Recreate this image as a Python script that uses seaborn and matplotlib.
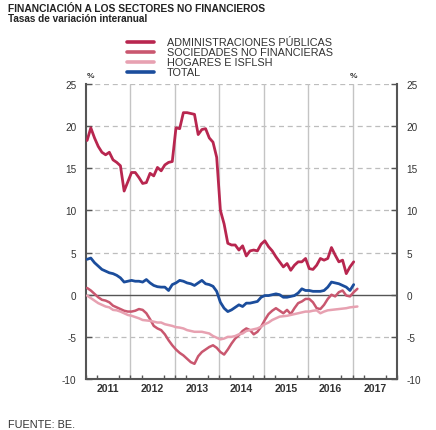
import numpy as np
import pandas as pd
import matplotlib
matplotlib.use("Agg")
import matplotlib.pyplot as plt
import seaborn as sns

# ---------------- data (monthly, from Jan 2011) ----------------
start_year = 2011
aapp = [18.3, 19.8, 18.6, 17.6, 16.9, 16.6, 16.9, 16.0, 15.7, 15.3,
        12.3, 13.4, 14.5, 14.5, 13.9, 13.2, 13.3, 14.4, 14.1, 15.1,
        14.7, 15.4, 15.7, 15.8, 19.8, 19.7, 21.6, 21.6, 21.5, 21.4,
        19.0, 19.6, 19.7, 18.6, 18.1, 16.3, 10.0, 8.4, 6.1, 5.9,
        5.9, 5.3, 5.8, 4.6, 5.2, 5.3, 5.2, 6.0, 6.4, 5.7,
        5.2, 4.5, 3.9, 3.3, 3.7, 2.9, 3.5, 3.9, 3.9, 4.3,
        3.1, 3.0, 3.5, 4.3, 4.1, 4.3, 5.6, 4.7, 3.9, 4.1,
        2.5, 3.3, 3.9]
snf = [0.8, 0.5, 0.1, -0.3, -0.6, -0.7, -0.9, -1.3, -1.5, -1.7,
       -1.9, -2.0, -2.0, -1.9, -1.7, -1.8, -2.2, -2.9, -3.7, -4.0,
       -4.2, -4.7, -5.4, -6.0, -6.5, -6.9, -7.2, -7.6, -8.0, -8.2,
       -7.3, -6.8, -6.5, -6.2, -6.0, -6.3, -6.8, -7.1, -6.5, -5.8,
       -5.2, -4.8, -4.3, -4.0, -4.2, -4.7, -4.4, -3.8, -3.0, -2.3,
       -1.9, -1.6, -1.9, -2.2, -1.8, -2.3, -1.6, -1.0, -0.8, -0.5,
       -0.5, -0.9, -1.6, -1.7, -1.2, -0.5, 0.0, -0.2, 0.3, 0.5,
       -0.1, -0.2, 0.3, 0.7]
hogares = [-0.1, -0.4, -0.7, -1.0, -1.2, -1.4, -1.5, -1.8, -1.85, -2.0,
           -2.2, -2.4, -2.5, -2.65, -2.8, -3.0, -3.05, -3.1, -3.2, -3.3,
           -3.3, -3.5, -3.6, -3.7, -3.85, -3.9, -4.0, -4.2, -4.3, -4.4,
           -4.4, -4.4, -4.5, -4.6, -4.9, -5.1, -5.3, -5.2, -5.0, -5.0,
           -4.9, -4.7, -4.6, -4.3, -4.2, -4.1, -4.0, -3.8, -3.5, -3.3,
           -3.0, -2.8, -2.6, -2.55, -2.5, -2.4, -2.3, -2.2, -2.1, -2.0,
           -2.0, -1.9, -1.85, -2.2, -2.0, -1.85, -1.8, -1.75, -1.7, -1.65,
           -1.6, -1.5, -1.45, -1.4]
total = [4.2, 4.35, 3.8, 3.4, 3.0, 2.8, 2.6, 2.5, 2.3, 2.0,
         1.5, 1.6, 1.7, 1.6, 1.6, 1.5, 1.8, 1.4, 1.1, 0.95,
         0.9, 0.9, 0.5, 1.2, 1.4, 1.7, 1.6, 1.4, 1.3, 1.1,
         1.4, 1.7, 1.3, 1.2, 1.0, 0.4, -0.9, -1.6, -2.0, -1.8,
         -1.5, -1.2, -1.4, -1.0, -1.0, -0.9, -0.8, -0.3, -0.1, -0.1,
         0.0, 0.1, 0.0, -0.3, -0.3, -0.2, -0.1, 0.2, 0.7, 0.5,
         0.5, 0.4, 0.4, 0.4, 0.5, 0.9, 1.5, 1.4, 1.3, 1.1,
         0.9, 0.5, 1.2]

series_names = ["ADMINISTRACIONES PÚBLICAS", "SOCIEDADES NO FINANCIERAS",
                "HOGARES E ISFLSH", "TOTAL"]
series_values = [aapp, snf, hogares, total]
series_colors = ["#B8264F", "#C9576F", "#E7A1B1", "#1B4D9C"]
series_widths = [2.0, 1.8, 1.8, 2.0]

year_labels = ["2011", "2012", "2013", "2014", "2015", "2016", "2017"]
y_ticks = [-10, -5, 0, 5, 10, 15, 20, 25]

title = "FINANCIACIÓN A LOS SECTORES NO FINANCIEROS"
subtitle = "Tasas de variación interanual"
source = "FUENTE: BE."

# ---------------- long-form table ----------------
rows = []
for name, vals in zip(series_names, series_values):
    for i, v in enumerate(vals):
        rows.append({"fecha": start_year + (i + 0.3) / 12.0, "valor": v, "serie": name})
df = pd.DataFrame(rows)

# ---------------- style ----------------
sns.set_theme(style="white")
plt.rcParams["font.family"] = ["Liberation Sans", "DejaVu Sans"]
plt.rcParams["axes.unicode_minus"] = False

fig = plt.figure(figsize=(4.36, 4.31), dpi=100)
ax = fig.add_axes([86 / 436, 1 - 380 / 431, (397 - 86) / 436, (380 - 85) / 431])

# grid
for yv in [-5, 5, 10, 15, 20, 25]:
    ax.axhline(yv, color="#BDBDBD", lw=0.9, ls=(0, (4, 3)), zorder=0)
for yr in range(2012, 2018):
    ax.axvline(yr, color="#C4C4C4", lw=1.0, zorder=0)
ax.axhline(0, color="#555555", lw=1.0, zorder=1)

for name, col, lw in zip(series_names, series_colors, series_widths):
    sub = df[df["serie"] == name]
    sns.lineplot(data=sub, x="fecha", y="valor", color=col, lw=lw, ax=ax,
                 label=name, sort=False, estimator=None, zorder=3)

ax.set_xlim(2011, 2018)
ax.set_ylim(-10, 25)
ax.set_xlabel("")
ax.set_ylabel("")

# ticks
ax.set_yticks(y_ticks)
ax.set_yticklabels([str(t) for t in y_ticks])
ax.tick_params(axis="y", which="both", direction="in", length=4, width=1,
               color="#555555", left=True, right=True, labelleft=True,
               labelright=True, labelsize=7.2, pad=7, labelcolor="#333333")
ax.set_xticks([y + 0.5 for y in range(2011, 2018)])
ax.set_xticklabels(year_labels)
ax.set_xticks([y + q for y in range(2011, 2018) for q in (0.0, 0.25, 0.75)] + [2018],
              minor=True)
ax.tick_params(axis="x", which="major", direction="in", length=0, pad=3,
               labelsize=7.6, labelcolor="#333333")
ax.tick_params(axis="x", which="minor", direction="in", length=3, width=1,
               color="#555555", bottom=True)
for lab in ax.get_xticklabels():
    lab.set_fontweight("bold")

for side in ["left", "right", "bottom"]:
    ax.spines[side].set_visible(True)
    ax.spines[side].set_color("#555555")
    ax.spines[side].set_linewidth(1.5)
ax.spines["top"].set_visible(False)

ax.text(2011.02, 25.6, "%", fontsize=6, fontweight="bold", ha="left", va="bottom",
        color="#333333")
ax.text(2016.93, 25.6, "%", fontsize=6, fontweight="bold", ha="left", va="bottom",
        color="#333333")

# legend
handles, labels = ax.get_legend_handles_labels()
ax.get_legend().remove()
leg = fig.legend(handles, labels, loc="upper left",
                 bbox_to_anchor=(127 / 436, 1 - 38.5 / 431), frameon=False,
                 borderpad=0, borderaxespad=0, labelspacing=0.0,
                 handlelength=2.5, handletextpad=1.2, fontsize=7.8)
for h in leg.get_lines():
    h.set_linewidth(2.6)
for t in leg.get_texts():
    t.set_color("#333333")

# titles
fig.text(8 / 436, 1 - 12 / 431, title, fontsize=7.4, fontweight="bold",
         ha="left", va="baseline", color="#222222")
fig.text(8 / 436, 1 - 22 / 431, subtitle, fontsize=7.2, fontweight="bold",
         ha="left", va="baseline", color="#222222")
fig.text(8 / 436, 1 - 425 / 431, source, fontsize=7.8, ha="left", va="center",
         color="#333333")

fig.savefig("out.png", dpi=100)
